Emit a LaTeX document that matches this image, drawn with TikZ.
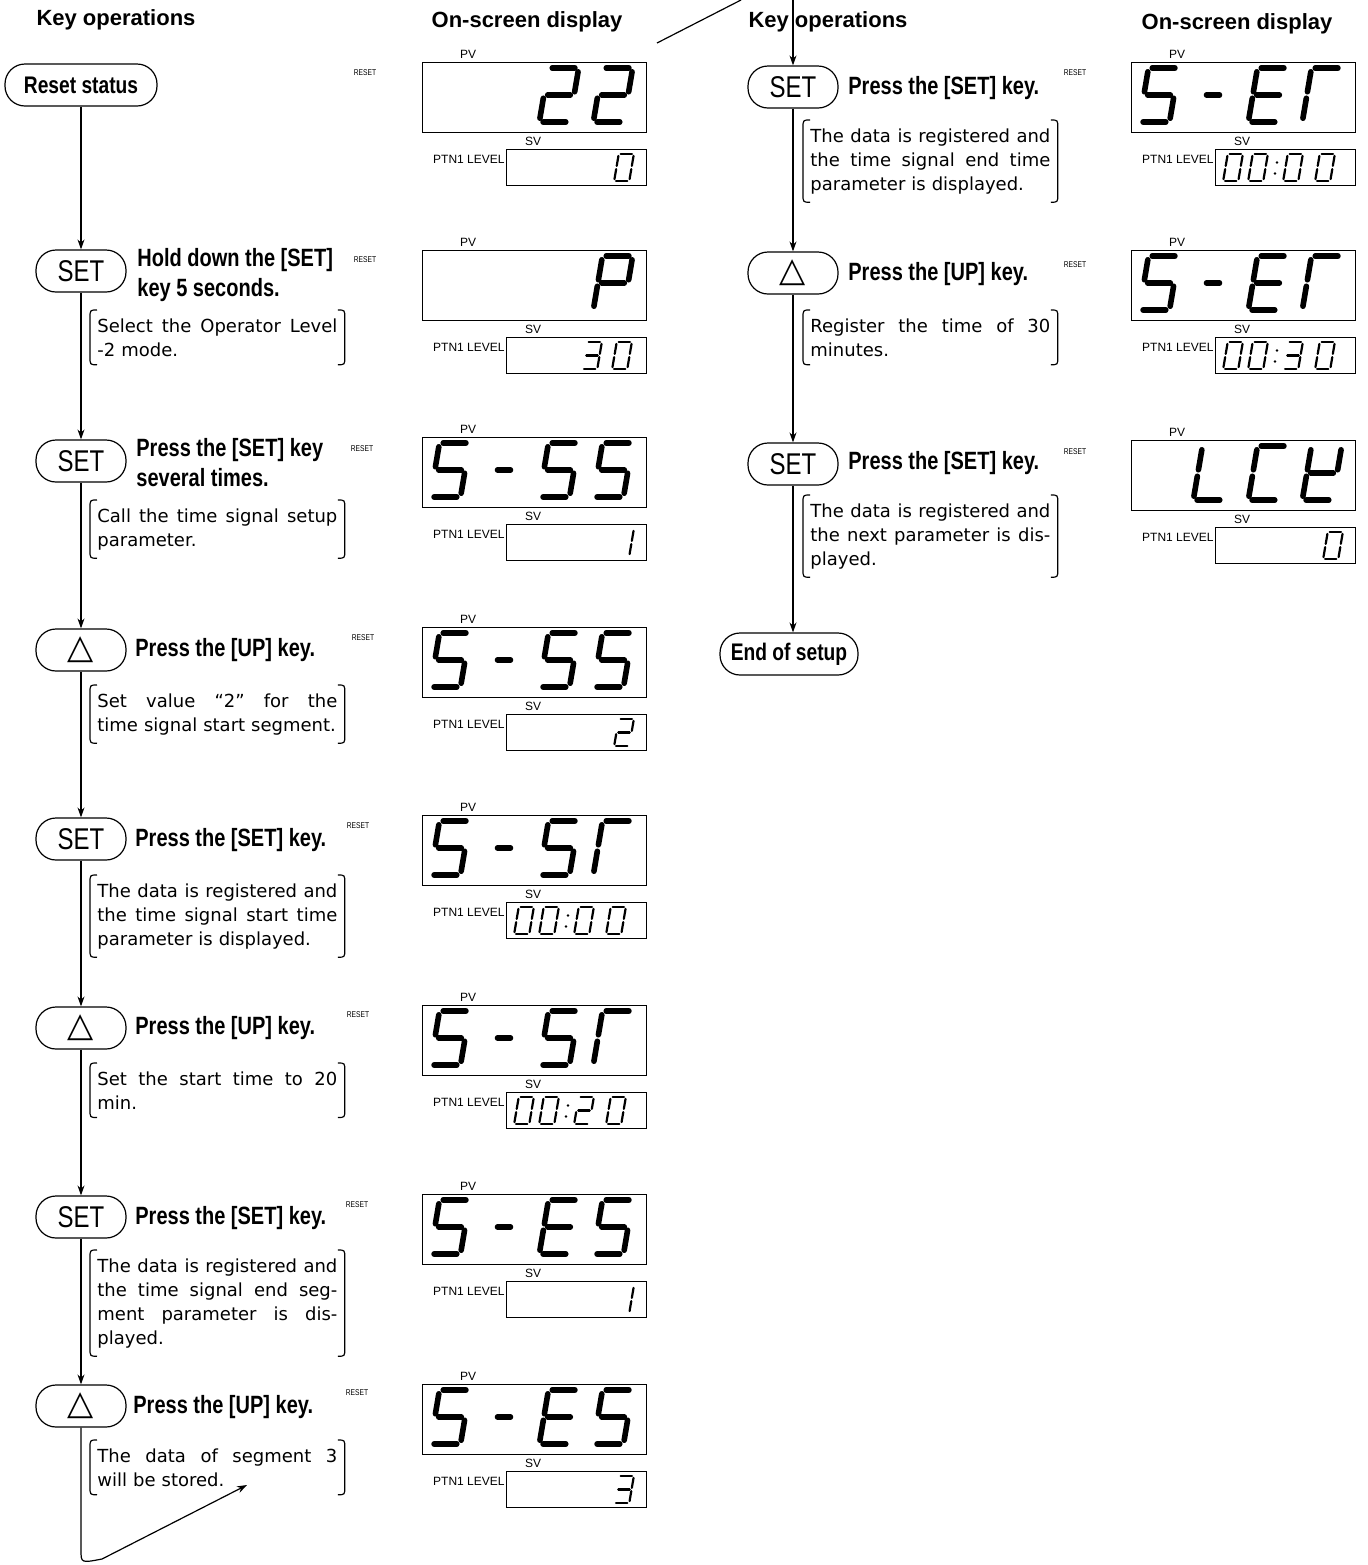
\documentclass[tikz,border=0pt]{standalone}
\usepackage{fontspec}
\setmainfont{Liberation Sans}
\newfontfamily\condfont[FakeStretch=0.8]{Liberation Sans}
\newfontfamily\notefont{DejaVu Sans}
\usetikzlibrary{arrows.meta,positioning,calc}

% seven-segment pieces (unit cell, y downwards)
\newcommand{\dsega}{\draw (-0.21,-0.5)--(0.21,-0.5);}
\newcommand{\dsegb}{\draw (0.28,-0.43)--(0.28,-0.06);}
\newcommand{\dsegc}{\draw (0.28,0.06)--(0.28,0.43);}
\newcommand{\dsegd}{\draw (-0.21,0.5)--(0.21,0.5);}
\newcommand{\dsege}{\draw (-0.28,0.06)--(-0.28,0.43);}
\newcommand{\dsegf}{\draw (-0.28,-0.43)--(-0.28,-0.06);}
\newcommand{\dsegg}{\draw (-0.21,0)--(0.21,0);}
\newcommand{\dsegh}{\draw (-0.12,0)--(0.12,0);}
\def\sgzero{a,b,c,d,e,f}
\def\sgone{b,c}
\def\sgtwo{a,b,g,e,d}
\def\sgthree{a,b,g,c,d}
\def\sgfive{a,f,g,c,d}
\def\sgdash{h}
\def\sgpee{a,b,f,g,e}
\def\sgee{a,f,g,e,d}
\def\sgtee{a,f,e}
\def\sgell{f,e,d}
\def\sgcee{a,f,e,d}
\def\sgaitch{f,e,b,g,d}

\newcommand{\lcd}[3]{%
  \node[pvbox,anchor=north west] (#1) at (#2,#3) {};
  \node[tag] (#1pv) at ($(#1.north west)+(46,-8)$) {PV};
  \node[svbox,anchor=north east] (#1sv) at ($(#1.south east)+(0,16)$) {};
  \node[tag] (#1svl) at ($(#1sv.north west)+(27,-8)$) {SV};
  \node[tag,anchor=east] (#1lv) at ($(#1sv.north west)+(-1,10)$) {PTN1 LEVEL};}
\newcommand{\pvch}[3]{%
  \begin{scope}[shift={($(#1.north west)+(#2,33)$)},xslant=0.17,scale=54,line width=2.8pt,line cap=round]
    \foreach \q in #3 {\csname dseg\q\endcsname}
  \end{scope}}
\newcommand{\svch}[3]{%
  \begin{scope}[shift={($(#1sv.east)+(-#2,0)$)},xslant=0.17,scale=27,line width=1.1pt,line cap=round]
    \foreach \q in #3 {\csname dseg\q\endcsname}
  \end{scope}}
\newcommand{\svtime}[5]{\svch{#1}{123}{#2}\svch{#1}{98}{#3}%
  \fill ($(#1sv.east)+(-79,-5)$) circle (1.4) ($(#1sv.east)+(-81,6)$) circle (1.4);%
  \svch{#1}{63}{#4}\svch{#1}{31}{#5}}
\newcommand{\jline}[1]{\makebox[\hsize][s]{\spaceskip=0.28em plus 1fil\relax #1}\\}
\newcommand{\bracks}[1]{%
  \draw[brk] ($(#1.north west)+(7,0)$) .. controls (#1.north west) .. ($(#1.north west)+(0,8)$) -- ($(#1.south west)+(0,-8)$) .. controls (#1.south west) .. ($(#1.south west)+(7,0)$);
  \draw[brk] ($(#1.north east)+(-7,0)$) .. controls (#1.north east) .. ($(#1.north east)+(0,8)$) -- ($(#1.south east)+(0,-8)$) .. controls (#1.south east) .. ($(#1.south east)+(-7,0)$);}

\tikzset{
  head/.style={font=\bfseries\fontsize{11}{13}\selectfont},
  keybox/.style={draw,line width=0.6pt,rounded corners=10pt,minimum width=45pt,minimum height=21pt,inner sep=0pt,font=\condfont\fontsize{15}{17}\selectfont},
  startbox/.style={keybox,font=\condfont\bfseries\fontsize{12}{14}\selectfont},
  upkey/.style={keybox,font=\notefont\fontsize{17}{17}\selectfont},
  act/.style={anchor=west,align=left,inner sep=0pt,font=\condfont\bfseries\fontsize{12.5}{15}\selectfont},
  note/.style={anchor=north west,text width=120pt,align=left,inner xsep=3.5pt,inner ysep=4pt,font=\notefont\fontsize{9}{12}\selectfont},
  brk/.style={line width=0.6pt},
  rst/.style={font=\condfont\fontsize{4.2}{5}\selectfont,inner sep=0pt},
  tag/.style={font=\fontsize{6}{7}\selectfont,inner sep=0pt},
  pvbox/.style={draw,line width=0.5pt,minimum width=112pt,minimum height=35pt,inner sep=0pt},
  svbox/.style={draw,line width=0.5pt,minimum width=70pt,minimum height=18pt,inner sep=0pt},
  flow/.style={line width=0.6pt,-{Stealth[length=5pt,width=3.5pt]}},
}

\begin{document}
\begin{tikzpicture}[x=0.5pt,y=-0.5pt]
  \useasboundingbox (0,0) rectangle (1368,1565);
  \node[head] (h1) at (116,20) {Key operations};
  \node[head] (h2) at (527,22) {On-screen display};
  \node[head] (h3) at (828,22) {Key operations};
  \node[head] (h4) at (1237,24) {On-screen display};

  % left column keys
  \node[startbox,minimum width=76pt] (k0) at (81,85) {Reset status};
  \node[keybox] (k1) at (81,271) {SET};
  \node[keybox] (k2) at (81,461) {SET};
  \node[upkey] (k3) at (81,650) {△};
  \node[keybox] (k4) at (81,839) {SET};
  \node[upkey] (k5) at (81,1028) {△};
  \node[keybox] (k6) at (81,1217) {SET};
  \node[upkey] (k7) at (81,1406) {△};
  % right column keys
  \node[keybox] (r1) at (793,87) {SET};
  \node[upkey] (r2) at (793,273) {△};
  \node[keybox] (r3) at (793,464) {SET};
  \node[startbox,minimum width=69pt] (r4) at (789,654) {End of setup};

  \node[act] (t1) at (137,275) {Hold down the [SET]\\key 5 seconds.};
  \node[act] (t2) at (136,463) {Press the [SET] key\\several times.};
  \node[act] (t3) at (135,650) {Press the [UP] key.};
  \node[act] (t4) at (135,840) {Press the [SET] key.};
  \node[act] (t5) at (135,1028) {Press the [UP] key.};
  \node[act] (t6) at (135,1218) {Press the [SET] key.};
  \node[act] (t7) at (133,1407) {Press the [UP] key.};
  \node[act] (u1) at (848,88) {Press the [SET] key.};
  \node[act] (u2) at (848,274) {Press the [UP] key.};
  \node[act] (u3) at (848,463) {Press the [SET] key.};

  \foreach \x/\y/\n in {365/73/1,365/260/2,362/449/3,363/638/4,358/826/5,358/1015/6,357/1205/7,357/1393/8,1075/73/9,1075/265/10,1075/452/11}
    \node[rst] (rs\n) at (\x,\y) {RESET};

  \node[note] (n1) at (90,310) {\jline{Select the Operator Level}-2 mode.};
  \node[note] (n2) at (90,500) {\jline{Call the time signal setup}parameter.};
  \node[note] (n3) at (90,685) {\jline{Set value “2” for the}time signal start segment.};
  \node[note] (n4) at (90,875) {\jline{The data is registered and}\jline{the time signal start time}parameter is displayed.};
  \node[note] (n5) at (90,1063) {\jline{Set the start time to 20}min.};
  \node[note] (n6) at (90,1250) {\jline{The data is registered and}\jline{the time signal end seg-}\jline{ment parameter is dis-}played.};
  \node[note] (n7) at (90,1440) {\jline{The data of segment 3}will be stored.};
  \node[note] (m1) at (803,120) {\jline{The data is registered and}\jline{the time signal end time}parameter is displayed.};
  \node[note] (m2) at (803,310) {\jline{Register the time of 30}minutes.};
  \node[note] (m3) at (803,495) {\jline{The data is registered and}\jline{the next parameter is dis-}played.};
  \foreach \b in {n1,n2,n3,n4,n5,n6,n7,m1,m2,m3} {\bracks{\b}}

  % connectors
  \foreach \a/\b in {k0/k1,k1/k2,k2/k3,k3/k4,k4/k5,k5/k6,k6/k7,r1/r2,r2/r3,r3/r4}
    \draw[flow] (\a.south) -- (\a.south |- \b.north);
  \coordinate (rin) at (793,0);
  \draw[flow] (rin) -- (r1.north);
  \coordinate (cpa) at (657,43);
  \coordinate (cpb) at (741,0);
  \draw[line width=0.6pt] (cpa) -- (cpb);
  \coordinate (lpa) at (81,1550);
  \coordinate (lpb) at (81,1563);
  \coordinate (lpc) at (102,1559);
  \coordinate (lpend) at (247,1485);
  \draw[flow] (k7.south) -- (lpa) .. controls (lpb) .. (lpc) -- (lpend);

  % displays
  \lcd{d1}{422}{62}   \pvch{d1}{137}{\sgtwo}\pvch{d1}{191}{\sgtwo}\svch{d1}{23}{\sgzero}
  \lcd{d2}{422}{250}  \pvch{d2}{191}{\sgpee}\svch{d2}{55}{\sgthree}\svch{d2}{25}{\sgzero}
  \lcd{d3}{422}{437}  \pvch{d3}{28}{\sgfive}\pvch{d3}{82}{\sgdash}\pvch{d3}{137}{\sgfive}\pvch{d3}{191}{\sgfive}\svch{d3}{23}{\sgone}
  \lcd{d4}{422}{627}  \pvch{d4}{28}{\sgfive}\pvch{d4}{82}{\sgdash}\pvch{d4}{137}{\sgfive}\pvch{d4}{191}{\sgfive}\svch{d4}{23}{\sgtwo}
  \lcd{d5}{422}{815}  \pvch{d5}{28}{\sgfive}\pvch{d5}{82}{\sgdash}\pvch{d5}{137}{\sgfive}\pvch{d5}{191}{\sgtee}\svtime{d5}{\sgzero}{\sgzero}{\sgzero}{\sgzero}
  \lcd{d6}{422}{1005} \pvch{d6}{28}{\sgfive}\pvch{d6}{82}{\sgdash}\pvch{d6}{137}{\sgfive}\pvch{d6}{191}{\sgtee}\svtime{d6}{\sgzero}{\sgzero}{\sgtwo}{\sgzero}
  \lcd{d7}{422}{1194} \pvch{d7}{28}{\sgfive}\pvch{d7}{82}{\sgdash}\pvch{d7}{137}{\sgee}\pvch{d7}{191}{\sgfive}\svch{d7}{23}{\sgone}
  \lcd{d8}{422}{1384} \pvch{d8}{28}{\sgfive}\pvch{d8}{82}{\sgdash}\pvch{d8}{137}{\sgee}\pvch{d8}{191}{\sgfive}\svch{d8}{23}{\sgthree}
  \lcd{e1}{1131}{62}  \pvch{e1}{28}{\sgfive}\pvch{e1}{82}{\sgdash}\pvch{e1}{137}{\sgee}\pvch{e1}{191}{\sgtee}\svtime{e1}{\sgzero}{\sgzero}{\sgzero}{\sgzero}
  \lcd{e2}{1131}{250} \pvch{e2}{28}{\sgfive}\pvch{e2}{82}{\sgdash}\pvch{e2}{137}{\sgee}\pvch{e2}{191}{\sgtee}\svtime{e2}{\sgzero}{\sgzero}{\sgthree}{\sgzero}
  \lcd{e3}{1131}{440} \pvch{e3}{82}{\sgell}\pvch{e3}{137}{\sgcee}\pvch{e3}{191}{\sgaitch}\svch{e3}{23}{\sgzero}
\end{tikzpicture}
\end{document}
